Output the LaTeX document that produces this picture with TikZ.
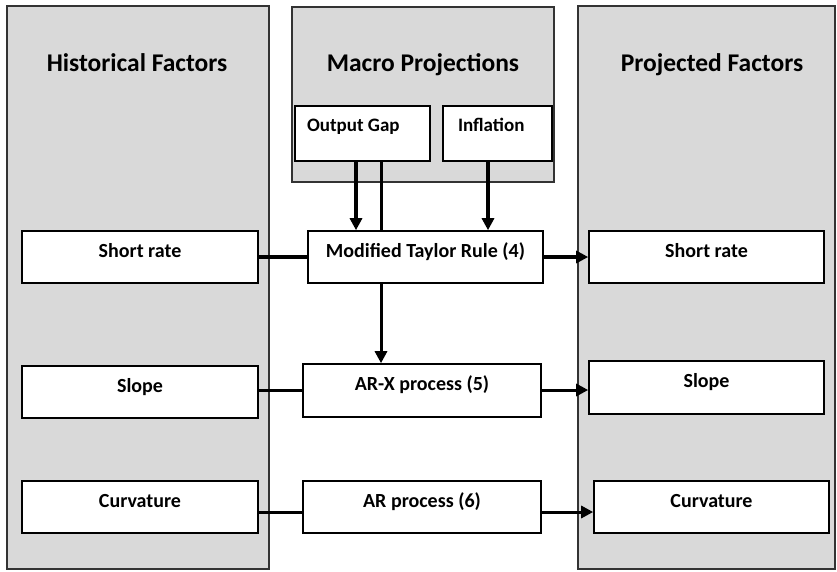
\documentclass[tikz,border=0pt]{standalone}
\usepackage{fontspec}
\setmainfont{Carlito}
\usetikzlibrary{arrows.meta}
\definecolor{panelgray}{HTML}{D9D9D9}
\begin{document}
\begin{tikzpicture}[x=1pt,y=-1pt,
  panel/.style={draw=black!80, line width=1.6pt, fill=panelgray, inner sep=0pt},
  fbox/.style={draw=black, line width=1.6pt, fill=white, inner xsep=0pt, inner ysep=0pt,
     text height=10pt, text depth=10pt, font=\fontsize{20}{24}\selectfont\bfseries},
  mbox/.style={fbox, text height=10pt, text depth=15pt,
     font=\fontsize{19}{23}\selectfont\bfseries},
  ttl/.style={anchor=base, inner sep=0pt, font=\fontsize{25.5}{30}\selectfont\bfseries},
  tip/.style={-{Triangle[length=12pt,width=12pt]}},
  heavy/.style={line width=4.5pt},
  medium/.style={line width=3pt}
]
\useasboundingbox (0,0) rectangle (837,571);
\fill[white] (0,0) rectangle (837,571);

% panels
\node[panel, minimum width=262, minimum height=563] (hist) at (138,287.5) {};
\node[panel, minimum width=262, minimum height=175] (macro) at (423,94.5) {};
\node[panel, minimum width=257, minimum height=563] (proj) at (706.5,287.5) {};

\node[ttl] (thist) at (137,71) {Historical Factors};
\node[ttl] (tmacro) at (423,71) {Macro Projections};
\node[ttl] (tproj) at (712,71) {Projected Factors};

% macro inputs
\node[mbox, minimum width=135, minimum height=55] (og) at (362.5,133.5) {\makebox[111pt][l]{Output Gap}};
\node[mbox, minimum width=109, minimum height=55] (inf) at (497.5,133.5) {\makebox[79pt][l]{Inflation}};

% historical factors
\node[fbox, minimum width=236, minimum height=52] (hsr) at (140,257) {Short rate};
\node[fbox, minimum width=236, minimum height=52] (hsl) at (140,392) {Slope};
\node[fbox, minimum width=236, minimum height=52] (hcu) at (140,507) {Curvature};

% processes
\node[fbox, minimum width=235, minimum height=52] (mtr) at (425.5,257) {Modified Taylor Rule (4)};
\node[fbox, minimum width=238, minimum height=53] (arx) at (422,390.5) {AR-X process (5)};
\node[fbox, minimum width=238, minimum height=52] (ar) at (422,507) {AR process (6)};

% projected factors
\node[fbox, minimum width=235, minimum height=52] (psr) at (706.5,257) {Short rate};
\node[fbox, minimum width=235, minimum height=53] (psl) at (706.5,387.5) {Slope};
\node[fbox, minimum width=235, minimum height=52] (pcu) at (711.5,507) {Curvature};

% helper coordinates
\coordinate (xa) at (356,0);
\coordinate (xb) at (381,0);
\coordinate (xc) at (488,0);
\coordinate (ya) at (0,390);
\coordinate (yc) at (0,512);

% connectors
\draw[tip, heavy] (og.south -| xa) -- (mtr.north -| xa);
\draw[medium] (og.south -| xb) -- (mtr.north -| xb);
\draw[tip, heavy] (inf.south -| xc) -- (mtr.north -| xc);
\draw[tip, medium] (mtr.south -| xb) -- (arx.north -| xb);

\draw[heavy] (hsr.east) -- (mtr.west);
\draw[tip, heavy] (mtr.east) -- (psr.west);

\draw[medium] (hsl.east |- ya) -- (arx.west |- ya);
\draw[tip, medium] (arx.east |- ya) -- (psl.west |- ya);

\draw[medium] (hcu.east |- yc) -- (ar.west |- yc);
\draw[tip, medium] (ar.east |- yc) -- (pcu.west |- yc);
\end{tikzpicture}
\end{document}
